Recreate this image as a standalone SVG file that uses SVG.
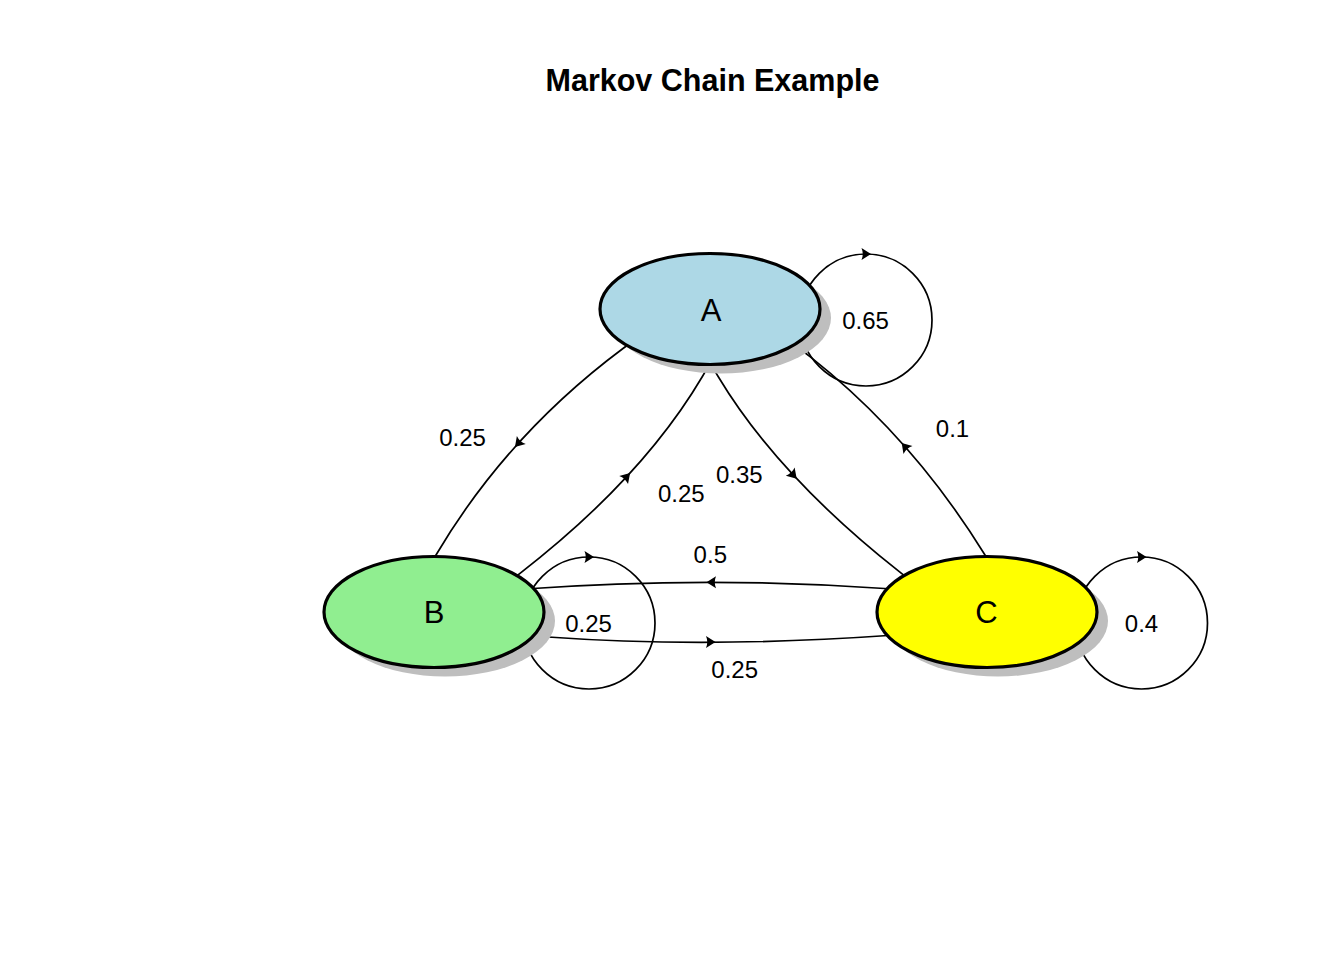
<svg xmlns="http://www.w3.org/2000/svg" xmlns:xlink="http://www.w3.org/1999/xlink" width="1344" height="960" viewBox="0 0 1344 960">
<style>
.edge{fill:none;stroke:#000;stroke-width:1.7}
.loop{fill:none;stroke:#000;stroke-width:1.7}
.shadow{fill:#BEBEBE;stroke:none}
.node{stroke:#000;stroke-width:3.2}
.nlabel{font-family:"Liberation Sans",Arial,Helvetica,sans-serif;font-size:31px;text-anchor:middle;fill:#000}
.elabel{font-family:"Liberation Sans",Arial,Helvetica,sans-serif;font-size:24px;text-anchor:middle;fill:#000}
.title{font-family:"Liberation Sans",Arial,Helvetica,sans-serif;font-size:30.5px;font-weight:bold;text-anchor:middle;fill:#000}
</style>
<defs>
<path id="arr" d="M5,0 L-4.5,-6 Q-2,0 -4.5,6 Z" fill="#000"/>
</defs>
<rect width="1344" height="960" fill="#fff"/>
<text class="title" x="712.5" y="91">Markov Chain Example</text>

<g id="connectors">
  <circle class="loop" cx="866" cy="320" r="66"/>
  <circle class="loop" cx="589" cy="623" r="66"/>
  <circle class="loop" cx="1141.5" cy="623" r="66"/>
  <path class="edge" d="M628.1,344.7 L623.3,348.3 Q506.95,434.95 436,555 L433,560.2"/>
  <path class="edge" d="M515.3,577 L520,573.3 Q642.05,478.75 702.7,376 L705.7,370.8"/>
  <path class="edge" d="M715.2,371.6 L718.3,376.7 Q777.8,475.8 899.3,571.7 L904,575.4"/>
  <path class="edge" d="M988.2,560.1 L985,555 Q912.5,437.55 810,356.7 L805.3,353"/>
  <path class="edge" d="M893,589 Q709,575.6 525,589"/>
  <path class="edge" d="M542,636.6 L548,637 Q706,648.35 888,635.5 L894,635.1"/>
  <use xlink:href="#arr" transform="translate(866,254) rotate(0)"/>
  <use xlink:href="#arr" transform="translate(589,557) rotate(0)"/>
  <use xlink:href="#arr" transform="translate(1141.5,557) rotate(0)"/>
  <use xlink:href="#arr" transform="translate(518.3,443.3) rotate(132.2)"/>
  <use xlink:href="#arr" transform="translate(626.7,476.7) rotate(-47.2)"/>
  <use xlink:href="#arr" transform="translate(793.3,475) rotate(47.1)"/>
  <use xlink:href="#arr" transform="translate(905,446.7) rotate(-131.4)"/>
  <use xlink:href="#arr" transform="translate(711.5,582.2) rotate(180)"/>
  <use xlink:href="#arr" transform="translate(710.5,642) rotate(0)"/>
</g>

<g id="node-A">
  <ellipse class="shadow" cx="721" cy="318" rx="110" ry="55.5"/>
  <ellipse class="node" cx="710" cy="309" rx="110" ry="55.5" fill="#ADD8E6"/>
  <text class="nlabel" x="711" y="321">A</text>
</g>
<g id="node-B">
  <ellipse class="shadow" cx="445" cy="621" rx="110" ry="55.5"/>
  <ellipse class="node" cx="434" cy="612" rx="110" ry="55.5" fill="#90EE90"/>
  <text class="nlabel" x="434" y="623.3">B</text>
</g>
<g id="node-C">
  <ellipse class="shadow" cx="998" cy="621" rx="110" ry="55.5"/>
  <ellipse class="node" cx="987" cy="612" rx="110" ry="55.5" fill="#FFFF00"/>
  <text class="nlabel" x="986.5" y="623">C</text>
</g>

<g id="edge-labels">
  <text class="elabel" x="865.5" y="329">0.65</text>
  <text class="elabel" x="588.5" y="632">0.25</text>
  <text class="elabel" x="1141.5" y="632">0.4</text>
  <text class="elabel" x="462.5" y="446">0.25</text>
  <text class="elabel" x="681.3" y="502.3">0.25</text>
  <text class="elabel" x="739.3" y="483.3">0.35</text>
  <text class="elabel" x="710.3" y="563.3">0.5</text>
  <text class="elabel" x="734.7" y="678.3">0.25</text>
  <text class="elabel" x="952.5" y="436.7">0.1</text>
</g>
</svg>
